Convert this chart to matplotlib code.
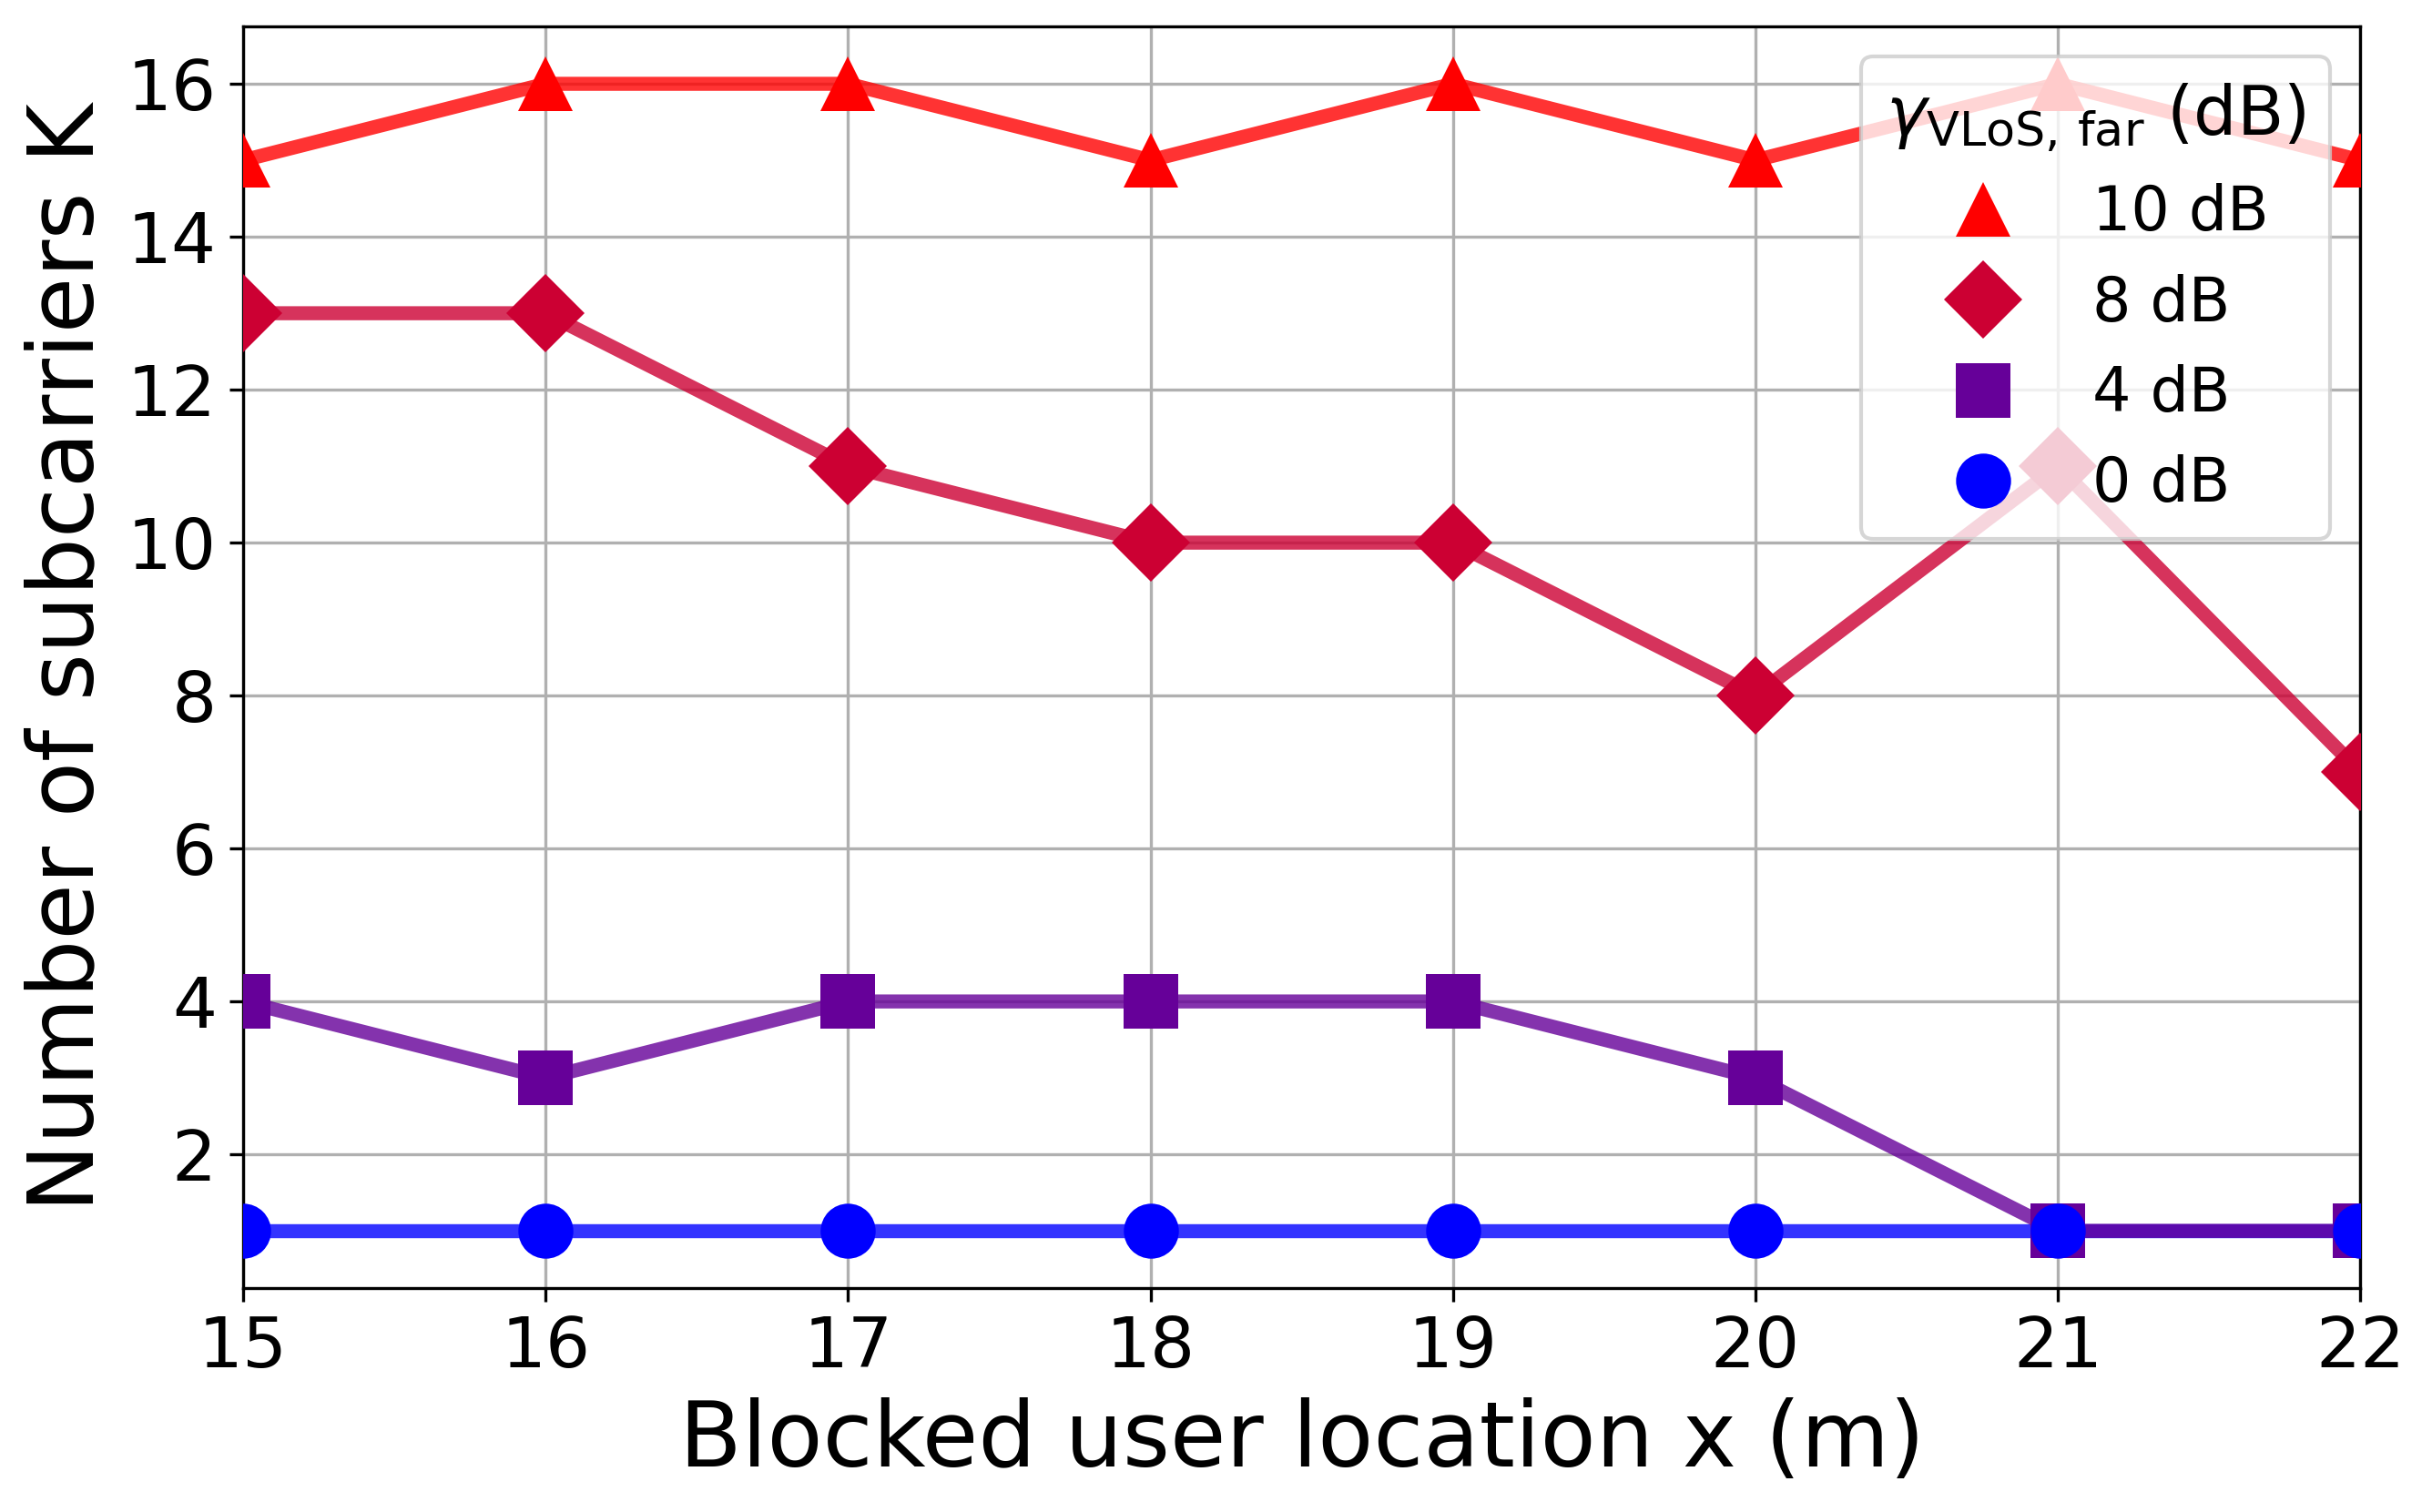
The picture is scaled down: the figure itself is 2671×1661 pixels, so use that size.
import numpy as np
import matplotlib
matplotlib.use("Agg")
import matplotlib.pyplot as plt

params = {'axes.labelsize': 24,
          'xtick.labelsize': 18.5,
          'ytick.labelsize': 18.5,
          'legend.fontsize': 16,
          'legend.title_fontsize': 18}
plt.rcParams.update(params)

x_loc = [15, 16, 17, 18, 19, 20, 21, 22]
gamma_db = [10, 8, 4, 0]
k_10db = [15, 16, 16, 15, 16, 15, 16, 15]
k_8db = [13, 13, 11, 10, 10, 8, 11, 7]
k_4db = [4, 3, 4, 4, 4, 3, 1, 1]
k_0db = [1, 1, 1, 1, 1, 1, 1, 1]
markers = ['^', 'D', 's', 'o']

series = [k_10db, k_8db, k_4db, k_0db]

# colour goes from blue (0 dB) to red (10 dB)
def gamma_color(g):
    return (g / 10.0, 0.0, 1.0 - g / 10.0)

fig = plt.figure(figsize=(2671 / 300, 1661 / 300), dpi=300)
ax = fig.add_axes([0.1, 0.148, 0.8705, 0.8345])

# lines first (low gamma first so it sits underneath)
for g, k in list(zip(gamma_db, series))[::-1]:
    ax.plot(x_loc, k, '-', color=gamma_color(g), alpha=0.8, lw=3.7, zorder=2)

# markers on top, these carry the legend
for g, k, m in zip(gamma_db, series, markers):
    ax.plot(x_loc, k, m, color=gamma_color(g), ms=14.5, mew=0,
            ls='none', label=f"{g} dB", zorder=3)

ax.set_xlim(15, 22)
ax.set_xticks(x_loc)
ax.set_yticks([2, 4, 6, 8, 10, 12, 14, 16])
ax.grid(True)
ax.set_xlabel("Blocked user location x (m)")
ax.set_ylabel("Number of subcarriers K")
ax.legend(title=r"$\gamma_{\mathrm{VLoS,\,far}}$ (dB)", loc='upper right')

plt.savefig("out.png", dpi=300)
